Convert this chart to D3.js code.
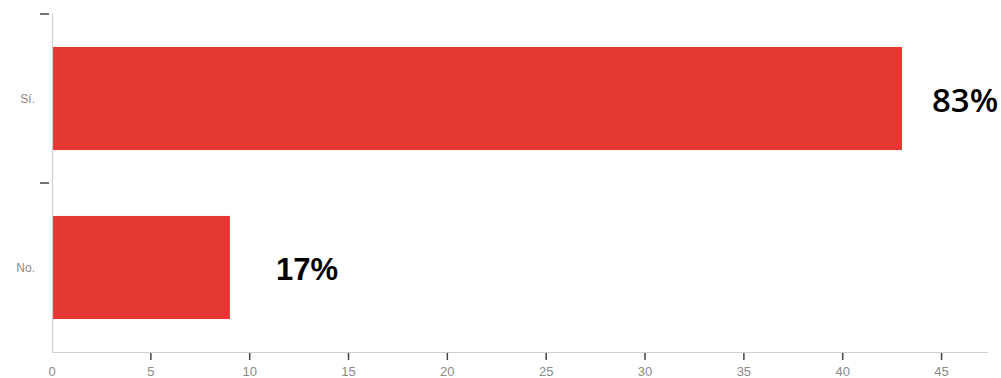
<!DOCTYPE html>
<html>
<head>
<meta charset="utf-8">
<script src="https://cdn.jsdelivr.net/npm/d3@7"></script>
<style>
  body { margin: 0; background: #fff; }
</style>
</head>
<body>
<div id="vis-holder"></div>
<script>
// Data
const categories = ["Sí.", "No."];
const counts = [43, 9];
const percentLabels = ["83%", "17%"];
const xTicks = [0, 5, 10, 15, 20, 25, 30, 35, 40, 45];

const width = 1001;
const height = 378;
const margin = { top: 14, right: 13, bottom: 26, left: 52 };

const svg = d3.select("#vis-holder")
  .append("svg")
  .attr("width", width)
  .attr("height", height);

// Scales
const x = d3.scaleLinear()
  .domain([0, 47.35])
  .range([margin.left, width - margin.right]);

const y = d3.scaleBand()
  .domain(categories)
  .range([margin.top, height - margin.bottom])
  .paddingInner(0.39)
  .paddingOuter(0.195);

// Bars
svg.selectAll("rect.bar")
  .data(counts)
  .enter()
  .append("rect")
  .attr("class", "bar")
  .attr("x", x(0))
  .attr("y", (d, i) => y(categories[i]))
  .attr("width", (d) => x(d) - x(0))
  .attr("height", y.bandwidth())
  .attr("fill", "#e43834");

// Axis lines (light gray)
svg.append("line")
  .attr("x1", x(0) + 0.5).attr("x2", x(0) + 0.5)
  .attr("y1", margin.top).attr("y2", height - margin.bottom + 0.5)
  .attr("stroke", "#cfcfcf").attr("stroke-width", 1.2);

svg.append("line")
  .attr("x1", x(0)).attr("x2", x.range()[1])
  .attr("y1", height - margin.bottom + 0.5).attr("y2", height - margin.bottom + 0.5)
  .attr("stroke", "#cfcfcf").attr("stroke-width", 1.2);

// Y ticks at band boundaries
const step = y.step();
svg.selectAll("line.ytick")
  .data(categories)
  .enter()
  .append("line")
  .attr("x1", x(0) - 12).attr("x2", x(0) - 3)
  .attr("y1", (d, i) => y.range()[0] + i * step)
  .attr("y2", (d, i) => y.range()[0] + i * step)
  .attr("stroke", "#444").attr("stroke-width", 1.5);

// Y labels
svg.selectAll("text.ylab")
  .data(categories)
  .enter()
  .append("text")
  .attr("x", x(0) - 17)
  .attr("y", (d) => y(d) + y.bandwidth() / 2)
  .attr("dy", "0.35em")
  .attr("text-anchor", "end")
  .attr("font-family", "Liberation Sans, Arial, sans-serif")
  .attr("font-size", "12px")
  .attr("fill", "#8a8a8a")
  .text((d) => d);

// X ticks
svg.selectAll("line.xtick")
  .data(xTicks.filter((t) => t > 0))
  .enter()
  .append("line")
  .attr("x1", (d) => x(d)).attr("x2", (d) => x(d))
  .attr("y1", height - margin.bottom + 1).attr("y2", height - margin.bottom + 8)
  .attr("stroke", "#444").attr("stroke-width", 1.5);

svg.selectAll("text.xlab")
  .data(xTicks)
  .enter()
  .append("text")
  .attr("x", (d) => x(d))
  .attr("y", height - 2)
  .attr("text-anchor", "middle")
  .attr("font-family", "Liberation Sans, Arial, sans-serif")
  .attr("font-size", "13px")
  .attr("fill", "#8a8a8a")
  .text((d) => d);

// Percent labels
svg.append("text")
  .attr("x", 932)
  .attr("y", y("Sí.") + y.bandwidth() / 2 + 13)
  .attr("font-family", "Open Sans, sans-serif")
  .attr("font-weight", 600)
  .attr("font-size", "33px")
  .attr("fill", "#000")
  .text(percentLabels[0]);

svg.append("text")
  .attr("x", x(counts[1]) + 46)
  .attr("y", y("No.") + y.bandwidth() / 2 + 12)
  .attr("font-family", "Liberation Sans, Arial, sans-serif")
  .attr("font-weight", "bold")
  .attr("font-size", "31px")
  .attr("fill", "#000")
  .text(percentLabels[1]);
</script>
</body>
</html>
